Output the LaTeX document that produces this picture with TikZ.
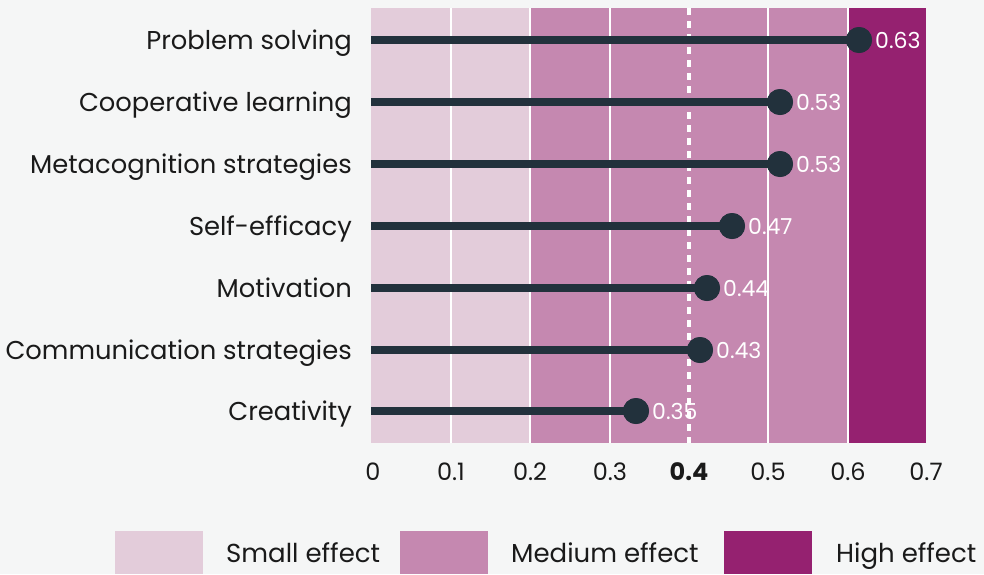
\documentclass[tikz,border=0pt]{standalone}
\usepackage{fontspec}
\setmainfont{Poppins}
\definecolor{bgc}{HTML}{F5F6F6}
\definecolor{smallc}{HTML}{E3CCDA}
\definecolor{medc}{HTML}{C588B0}
\definecolor{highc}{HTML}{952170}
\definecolor{dotc}{HTML}{22313C}
\definecolor{txtc}{HTML}{1A1A1A}
\tikzset{
  catlabel/.style={anchor=base east, font=\fontsize{25.8}{28}\selectfont, text=txtc, inner sep=0pt},
  vallabel/.style={anchor=base west, font=\fontsize{22}{24}\selectfont, text=white, inner sep=0pt},
  ticklabel/.style={anchor=base, font=\fontsize{24}{26}\selectfont, text=txtc, inner sep=0pt},
  legtext/.style={anchor=base west, font=\fontsize{26}{28}\selectfont, text=txtc, inner sep=0pt},
  lollidot/.style={circle, fill=dotc, minimum size=26pt, inner sep=0pt},
  stem/.style={draw=dotc, line width=8.5pt},
  gridline/.style={draw=white, line width=1.8pt},
  refline/.style={draw=white, line width=4pt, dash pattern=on 7pt off 6pt},
  legbox/.style={minimum width=88pt, minimum height=43pt, inner sep=0pt, anchor=north west}
}
\begin{document}
\begin{tikzpicture}[x=1pt,y=-1pt]
\useasboundingbox (0,0) rectangle (984,574);
\fill[bgc] (0,0) rectangle (984,574);
% bands
\fill[smallc] (371,8) rectangle (530,443);
\fill[medc] (530,8) rectangle (848,443);
\fill[highc] (848,8) rectangle (926,443);
% grid lines
\foreach \gx in {451,530,610,768,848} {
  \draw[gridline] (\gx,8) -- (\gx,443);
}
\draw[refline] (689,8) -- (689,443);
% rows
\foreach \nm/\yy/\dx/\txt/\val in {
  a/40/859/Problem solving/0.63,
  b/102/780/Cooperative learning/0.53,
  c/164/780/Metacognition strategies/0.53,
  d/226/732/Self-efficacy/0.47,
  e/288/707/Motivation/0.44,
  f/350/700/Communication strategies/0.43,
  g/411/636/Creativity/0.35} {
  \node[catlabel] (lab\nm) at (352,\yy+9.5) {\txt};
  \coordinate (start\nm) at (371,\yy);
  \node[lollidot] (dot\nm) at (\dx,\yy) {};
  \draw[stem] (start\nm) -- (dot\nm.center);
  \node[lollidot] at (dot\nm) {};
  \node[vallabel] (val\nm) at (\dx+16,\yy+8) {\val};
}
% tick labels
\foreach \tx/\tl in {373/0,451/0.1,530/0.2,610/0.3,768/0.5,848/0.6,926/0.7} {
  \node[ticklabel] (tick\tl) at (\tx,480) {\tl};
}
\node[ticklabel, font=\fontsize{24}{26}\selectfont\bfseries] (tick04) at (689,480) {0.4};
% legend
\node[legbox, fill=smallc] (legs) at (115,531) {};
\node[legtext] (legst) at (226,562) {Small effect};
\node[legbox, fill=medc] (legm) at (400,531) {};
\node[legtext] (legmt) at (511,562) {Medium effect};
\node[legbox, fill=highc] (legh) at (724,531) {};
\node[legtext] (leght) at (836,562) {High effect};
\end{tikzpicture}
\end{document}
